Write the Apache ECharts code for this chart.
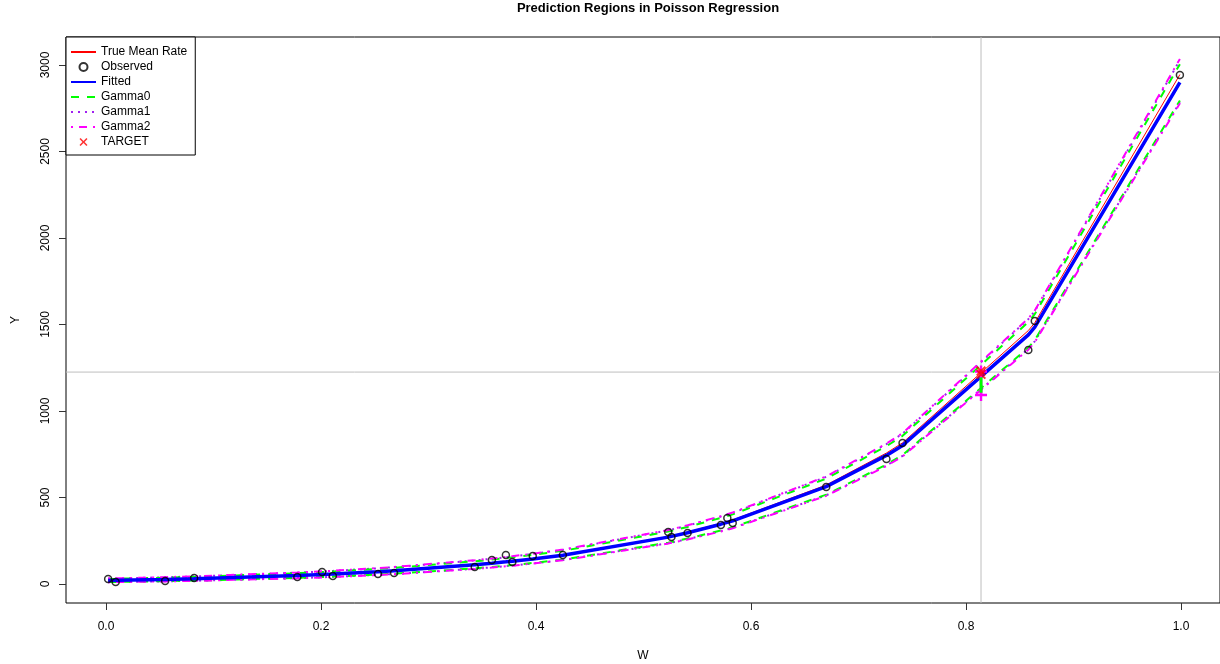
<!DOCTYPE html>
<html>
<head>
<meta charset="utf-8">
<script src="https://cdn.jsdelivr.net/npm/echarts@6/dist/echarts.min.js"></script>
<style>
html,body{margin:0;padding:0;background:#fff;}
#chart{width:1220px;height:664px;}
</style>
</head>
<body>
<div id="chart"></div>
<script>
// ---- data ----
const obsW = [0.002,0.009,0.055,0.082,0.178,0.201,0.211,0.253,0.268,0.343,0.359,0.372,0.378,0.397,0.425,0.523,0.526,0.541,0.572,0.578,0.583,0.670,0.726,0.741,0.858,0.864,0.999];
const obsY = [29,12,17,35,40,69,46,58,64,98,139,168,127,162,168,300,272,295,341,381,353,561,722,815,1353,1520,2942];

const lineW = [0.002,0.009,0.055,0.082,0.178,0.201,0.211,0.253,0.268,0.343,0.359,0.372,0.378,0.397,0.425,0.523,0.526,0.541,0.572,0.578,0.583,0.670,0.726,0.741,0.858,0.864,0.999];
const trueRate = [20.1,20.8,26.2,30.0,48.5,54.5,57.3,70.7,76.3,111.2,120.4,128.5,132.5,145.8,167.8,274.0,278.2,300.0,350.5,361.4,370.5,572,757,816,1465,1510,2945];
const fitted   = [20.3,21.0,26.4,30.2,48.7,54.6,57.4,70.7,76.2,110.7,119.8,127.8,131.7,144.8,166.4,270.9,275.0,296.2,345.6,356.2,365.0,562.7,743.3,801.0,1440,1485,2900];
const gamma0Upper = [29.1,29.9,36.4,40.9,62.3,69.0,72.2,87.1,93.2,131.2,141.2,149.8,154.1,168.3,191.6,303.0,307.3,329.8,381.9,393.0,402.2,609.0,796.5,856.2,1514,1560,3005];
const gamma0Lower = [11.5,12.1,16.4,19.5,35.1,40.2,42.6,54.3,59.2,90.2,98.4,105.8,109.3,121.3,141.2,238.8,242.7,262.6,309.3,319.4,327.8,516.4,690.1,745.8,1366,1410,2795];
const gamma1Upper = [31.0,31.8,38.6,43.3,65.4,72.3,75.5,90.8,97.0,135.8,146.0,154.8,159.1,173.6,197.3,310.2,314.5,337.2,389.9,401.2,410.6,619.4,808.6,868.7,1531,1577,3028];
const gamma1Lower = [10.6,11.1,15.3,18.3,33.8,38.8,41.2,52.6,57.5,87.9,96.1,103.4,106.8,118.8,138.6,235.5,239.4,259.3,305.7,315.7,324.0,512.2,685.1,740.2,1359,1403,2785];
const gamma2Upper = [31.6,32.5,39.3,44.0,66.2,73.1,76.4,91.7,98.0,137.0,147.2,156.1,160.4,174.9,198.7,312.1,316.5,339.2,392.1,403.4,412.8,622.0,811.5,871.8,1535,1581,3035];
const gamma2Lower = [10.2,10.7,14.8,17.8,33.0,38.0,40.3,51.8,56.6,87.0,95.2,102.4,105.9,117.7,137.4,233.9,237.7,257.5,303.8,313.7,322.0,509.3,682.0,737.3,1354.6,1398.3,2778.8];

const targetW = 0.814;
const targetY = 1225;
const targetPoints = [[0.814,1231],[0.814,1212]];
const gamma0Interval = [1105,1195];
const gamma2Interval = [1092,1228];

const xRange = [-0.0372, 1.0363];
const yRange = [-110, 3162];
const xTicks = [0,0.2,0.4,0.6,0.8,1.0];
const yTicks = [0,500,1000,1500,2000,2500,3000];
const legendNames = ['True Mean Rate','Observed','Fitted','Gamma0','Gamma1','Gamma2','TARGET'];

// ---- chart ----
const FONT = 'Liberation Sans, Arial, Helvetica, sans-serif';
const pair = arr => lineW.map((w,i)=>[w,arr[i]]);
const X_ICON = 'path://M0,1.4L1.4,0L5,3.6L8.6,0L10,1.4L6.4,5L10,8.6L8.6,10L5,6.4L1.4,10L0,8.6L3.6,5Z';
const PLUS_ICON = 'path://M4,0H6V4H10V6H6V10H4V6H0V4H4Z';
const hideSym = {opacity:0};
const lineNames = ['True Mean Rate','Fitted','Gamma0','Gamma1','Gamma2'];

function bandSeries(name, data, color, dash, width, z){
  return {name, type:'line', data:pair(data), symbol:'none', z,
    lineStyle:{color, width, type:dash}, itemStyle:{color}, silent:true, animation:false};
}
function refLine(name, data){
  return {name, type:'line', data, symbol:'none', z:1, silent:true,
    lineStyle:{color:'#BEBEBE', width:1, type:'solid'}, itemStyle:{color:'#BEBEBE'}};
}

const chart = echarts.init(document.getElementById('chart'), null, {renderer:'canvas'});
chart.setOption({
  animation:false,
  backgroundColor:'#fff',
  textStyle:{fontFamily:FONT},
  title:{text:'Prediction Regions in Poisson Regression', left:643, textAlign:'center', top:-3,
    textStyle:{fontFamily:FONT, fontSize:13, fontWeight:'bold', color:'#000'}},
  grid:{left:66, right:0, top:37, bottom:61, outerBoundsMode:'none', containLabel:false,
    show:true, borderColor:'#000', borderWidth:1, backgroundColor:'transparent'},
  legend:{
    data:legendNames.map(n => lineNames.includes(n) ? {name:n, itemStyle:hideSym} : {name:n}),
    orient:'vertical', left:66, top:37,
    itemWidth:25, itemHeight:8, itemGap:3,
    padding:[9,8,7,4],
    borderColor:'#000', borderWidth:1, backgroundColor:'#fff',
    textStyle:{fontFamily:FONT, fontSize:12, color:'#000'},
    selectedMode:false, z:20
  },
  xAxis:{type:'value', min:xRange[0], max:xRange[1], name:'W', nameLocation:'middle', nameGap:47,
    nameTextStyle:{fontFamily:FONT, fontSize:12, color:'#000'},
    axisLine:{show:false, onZero:false}, splitLine:{show:false},
    axisTick:{show:true, length:7, customValues:xTicks, lineStyle:{color:'#333'}},
    axisLabel:{customValues:xTicks, margin:18, fontFamily:FONT, fontSize:12, color:'#000',
      formatter:v=>v.toFixed(1)}},
  yAxis:{type:'value', min:yRange[0], max:yRange[1], name:'Y', nameLocation:'middle', nameGap:44, nameRotate:90,
    nameTextStyle:{fontFamily:FONT, fontSize:12, color:'#000'},
    axisLine:{show:false, onZero:false}, splitLine:{show:false},
    axisTick:{show:true, length:7, customValues:yTicks, lineStyle:{color:'#333'}},
    axisLabel:{customValues:yTicks, rotate:90, margin:14, fontFamily:FONT, fontSize:12, color:'#000',
      formatter:v=>String(v)}},
  series:[
    refLine('refV', [[targetW, yRange[0]],[targetW, yRange[1]]]),
    refLine('refH', [[xRange[0], targetY],[xRange[1], targetY]]),
    bandSeries('Gamma1', gamma1Upper, '#A020F0', [2,5], 2, 2),
    bandSeries('Gamma1', gamma1Lower, '#A020F0', [2,5], 2, 2),
    bandSeries('Gamma0', gamma0Upper, '#00FF00', [8,8], 2, 3),
    bandSeries('Gamma0', gamma0Lower, '#00FF00', [8,8], 2, 3),
    bandSeries('Gamma2', gamma2Upper, '#FF00FF', [2,6,8,6], 2, 4),
    bandSeries('Gamma2', gamma2Lower, '#FF00FF', [2,6,8,6], 2, 4),
    {name:'True Mean Rate', type:'line', data:pair(trueRate), symbol:'none', z:5,
      lineStyle:{color:'#FF0000', width:1}, itemStyle:{color:'#FF0000'}},
    {name:'Fitted', type:'line', data:pair(fitted), symbol:'none', z:6,
      lineStyle:{color:'#0000FF', width:3.5}, itemStyle:{color:'#0000FF'}},
    {name:'g2int', type:'line', data:[[targetW,gamma2Interval[0]],[targetW,gamma2Interval[1]]], z:7,
      symbol:PLUS_ICON, symbolSize:12, lineStyle:{color:'#FF00FF', width:2.5}, itemStyle:{color:'#FF00FF'}},
    {name:'g0int', type:'line', data:[[targetW,gamma0Interval[0]],[targetW,gamma0Interval[1]]], z:8,
      symbol:'none', lineStyle:{color:'#00FF00', width:3}, itemStyle:{color:'#00FF00'}},
    {name:'Observed', type:'scatter', data:obsW.map((w,i)=>[w,obsY[i]]), z:9,
      symbol:'circle', symbolSize:7, itemStyle:{color:'rgba(0,0,0,0)', borderColor:'#000', borderWidth:1.5}},
    {name:'TARGET', type:'scatter', data:targetPoints, z:10,
      symbol:X_ICON, symbolSize:10, itemStyle:{color:'#FF0000'}}
  ]
});
</script>
</body>
</html>
